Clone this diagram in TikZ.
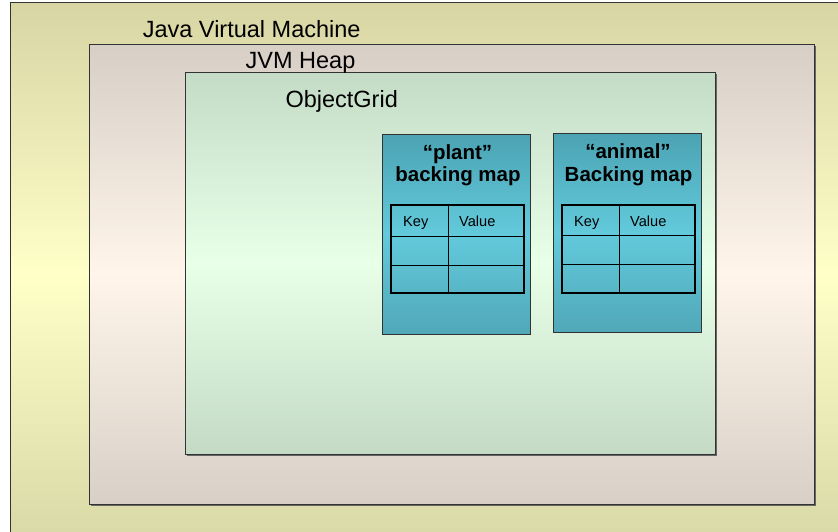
\documentclass[tikz,border=0pt]{standalone}
\usepackage{fontspec}
\setmainfont{Liberation Sans}
\definecolor{jvmTop}{HTML}{D8D5A4}
\definecolor{jvmMid}{HTML}{FFFFC8}
\definecolor{jvmBot}{HTML}{D8D8A6}
\definecolor{heapTop}{HTML}{D7CEC6}
\definecolor{heapMid}{HTML}{FFF5EA}
\definecolor{heapBot}{HTML}{D8D0C7}
\definecolor{gridTop}{HTML}{C4DBC6}
\definecolor{gridMid}{HTML}{E8FFE8}
\definecolor{gridBot}{HTML}{C4DAC4}
\definecolor{tealTop}{HTML}{4BA3B3}
\definecolor{tealMid}{HTML}{62CADB}
\definecolor{tealBot}{HTML}{50A8B8}
\begin{document}
\begin{tikzpicture}[x=1pt,y=-1pt,
  frame/.style={draw=black!80, line width=1pt},
  shadowfill/.style={fill=black!60},
  lbl/.style={anchor=base, inner sep=0pt, font=\fontsize{23.5}{28}\selectfont},
  ttl/.style={anchor=base, inner sep=0pt, font=\fontsize{20.5}{24}\selectfont\bfseries},
  cell/.style={anchor=base west, inner sep=0pt, font=\fontsize{14.6}{17}\selectfont},
  tblout/.style={draw=black, line width=2.6pt},
  tblin/.style={draw=black, line width=1pt}]
\useasboundingbox (0,0) rectangle (838,531);
\fill[white] (0,0) rectangle (838,531);
% Java Virtual Machine
\fill[shadowfill] (11.5,4) rectangle (850,545);
\draw[frame, top color=jvmTop, bottom color=jvmBot, middle color=jvmMid] (10,2.5) rectangle (850,545);
% JVM Heap
\fill[shadowfill] (90.5,45.5) rectangle (815.6,505.6);
\draw[frame, top color=heapTop, bottom color=heapBot, middle color=heapMid] (89,44) rectangle (814,504);
% ObjectGrid
\fill[shadowfill] (186.5,73.5) rectangle (716.6,455.6);
\draw[frame, top color=gridTop, bottom color=gridBot, middle color=gridMid] (185,72) rectangle (715,454);
% backing maps
\fill[shadowfill] (383,135) rectangle (531,335);
\draw[frame, top color=tealTop, bottom color=tealBot, middle color=tealMid] (382,134) rectangle (530,334);
\fill[shadowfill] (554,134) rectangle (702,333);
\draw[frame, top color=tealTop, bottom color=tealBot, middle color=tealMid] (553,133) rectangle (701,332);
% tables
\draw[tblin] (448,205) -- (448,293) (391,236) -- (524,236) (391,265) -- (524,265);
\draw[tblout] (391,205) rectangle (524,293);
\draw[tblin] (619,205) -- (619,293) (562,235) -- (695,235) (562,264) -- (695,264);
\draw[tblout] (562,205) rectangle (695,293);
% labels
\node[lbl] (jvmlbl) at (251.7,37.5) {Java Virtual Machine};
\node[lbl] (heaplbl) at (300.5,68.5) {JVM Heap};
\node[lbl] (gridlbl) at (341.7,107) {ObjectGrid};
\node[ttl] (plant1) at (457.5,159) {“plant”};
\node[ttl] (plant2) at (458,181.5) {backing map};
\node[ttl] (animal1) at (628,158) {“animal”};
\node[ttl] (animal2) at (628.5,181.5) {Backing map};
\node[cell] (pk) at (403,226) {Key};
\node[cell] (pv) at (459,226) {Value};
\node[cell] (ak) at (574,226) {Key};
\node[cell] (av) at (630,226) {Value};
\end{tikzpicture}
\end{document}
